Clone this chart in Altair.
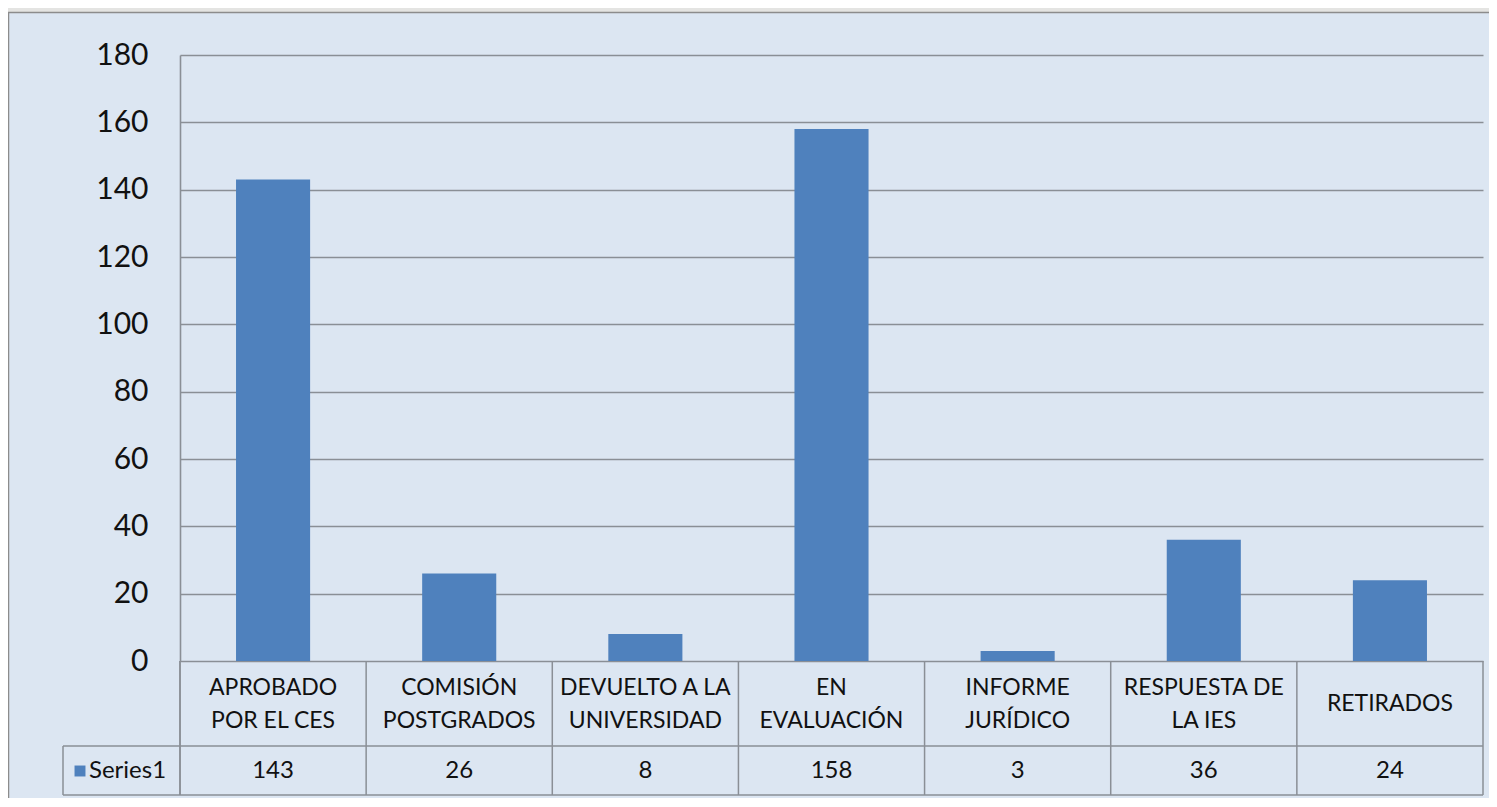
import altair as alt
import pandas as pd

categories = ["APROBADO\nPOR EL CES", "COMISIÓN\nPOSTGRADOS", "DEVUELTO A LA\nUNIVERSIDAD",
              "EN\nEVALUACIÓN", "INFORME\nJURÍDICO", "RESPUESTA DE\nLA IES", "RETIRADOS"]
values = [143, 26, 8, 158, 3, 36, 24]
series_name = "Series1"
y_ticks = [0, 20, 40, 60, 80, 100, 120, 140, 160, 180]

W, H = 1303, 606
STEP = W / len(categories)
LINE = "#8a8f96"
BAR = "#4F81BD"
FONT = "Lato"
TXT = "#111111"

df = pd.DataFrame({"cat": categories, "val": values})

xs = alt.X("cat:N", sort=categories, axis=None,
           scale=alt.Scale(paddingInner=0.602, paddingOuter=0.301))

bars = alt.Chart(df).mark_bar(color=BAR).encode(
    x=xs,
    y=alt.Y("val:Q", scale=alt.Scale(domain=[0, 180], nice=False),
            axis=alt.Axis(values=y_ticks, title=None, ticks=False, grid=True,
                          gridColor=LINE, gridWidth=1.6, domainColor=LINE, domainWidth=1.6,
                          labelFont=FONT, labelFontSize=30, labelColor=TXT,
                          labelPadding=32)),
)

# table vertical lines (left edge of each cell)
vlines = alt.Chart(df).mark_rule(color=LINE, strokeWidth=1.5, xOffset=-STEP / 2).encode(
    x=xs, y=alt.value(H), y2=alt.value(H + 134))

base = alt.Chart(pd.DataFrame({"k": [0]}))
right_line = base.mark_rule(color=LINE, strokeWidth=1.5).encode(
    x=alt.value(W), y=alt.value(H), y2=alt.value(H + 134))
left_line = base.mark_rule(color=LINE, strokeWidth=1.5).encode(
    x=alt.value(0), y=alt.value(H), y2=alt.value(H + 134))
series_left = base.mark_rule(color=LINE, strokeWidth=1.5).encode(
    x=alt.value(-117), y=alt.value(H + 85), y2=alt.value(H + 134))
h1 = base.mark_rule(color=LINE, strokeWidth=1.5).encode(
    x=alt.value(-117), x2=alt.value(W), y=alt.value(H + 85))
h2 = base.mark_rule(color=LINE, strokeWidth=1.5).encode(
    x=alt.value(-117), x2=alt.value(W), y=alt.value(H + 134))

cat_base = alt.Chart(df).transform_calculate(
    multi="indexof(datum.cat, '\\n') >= 0")
cat_text2 = cat_base.transform_filter("datum.multi").mark_text(
    font=FONT, fontSize=23, color=TXT, lineBreak="\n", lineHeight=33,
    baseline="middle").encode(x=xs, y=alt.value(H + 26.5), text="cat:N")
cat_text1 = cat_base.transform_filter("!datum.multi").mark_text(
    font=FONT, fontSize=23, color=TXT, baseline="middle").encode(
    x=xs, y=alt.value(H + 43), text="cat:N")
val_text = alt.Chart(df).mark_text(font=FONT, fontSize=24, color=TXT,
                                   baseline="middle").encode(
    x=xs, y=alt.value(H + 110), text="val:Q")

legend_sq = base.mark_square(color=BAR, size=120, opacity=1).encode(
    x=alt.value(-100), y=alt.value(H + 110))
legend_txt = alt.Chart(pd.DataFrame({"s": [series_name]})).mark_text(
    font=FONT, fontSize=24, color=TXT, align="left", baseline="middle").encode(
    x=alt.value(-91), y=alt.value(H + 110), text="s:N")

# outer frame
top_strip = base.mark_rect(color="#e4e4e2").encode(
    x=alt.value(-172), x2=alt.value(W + 10), y=alt.value(-47), y2=alt.value(-43))
top_border = base.mark_rule(color="#8c8c8c", strokeWidth=1.5).encode(
    x=alt.value(-172), x2=alt.value(W + 10), y=alt.value(-42.5))
left_border = base.mark_rule(color="#8c8c8c", strokeWidth=1.5).encode(
    x=alt.value(-171.5), y=alt.value(-43), y2=alt.value(H + 140))

chart = alt.layer(
    bars, vlines, right_line, left_line, series_left, h1, h2,
    cat_text2, cat_text1, val_text, legend_sq, legend_txt, top_strip, top_border, left_border
).properties(
    width=W, height=H,
    padding={"left": 172, "top": 47, "right": 6, "bottom": 137},
    autosize=alt.AutoSizeParams(type="none"),
    background="#DCE6F2",
).configure_view(stroke=None)

chart.save("out.html", embed_options={"renderer": "svg", "actions": False})
